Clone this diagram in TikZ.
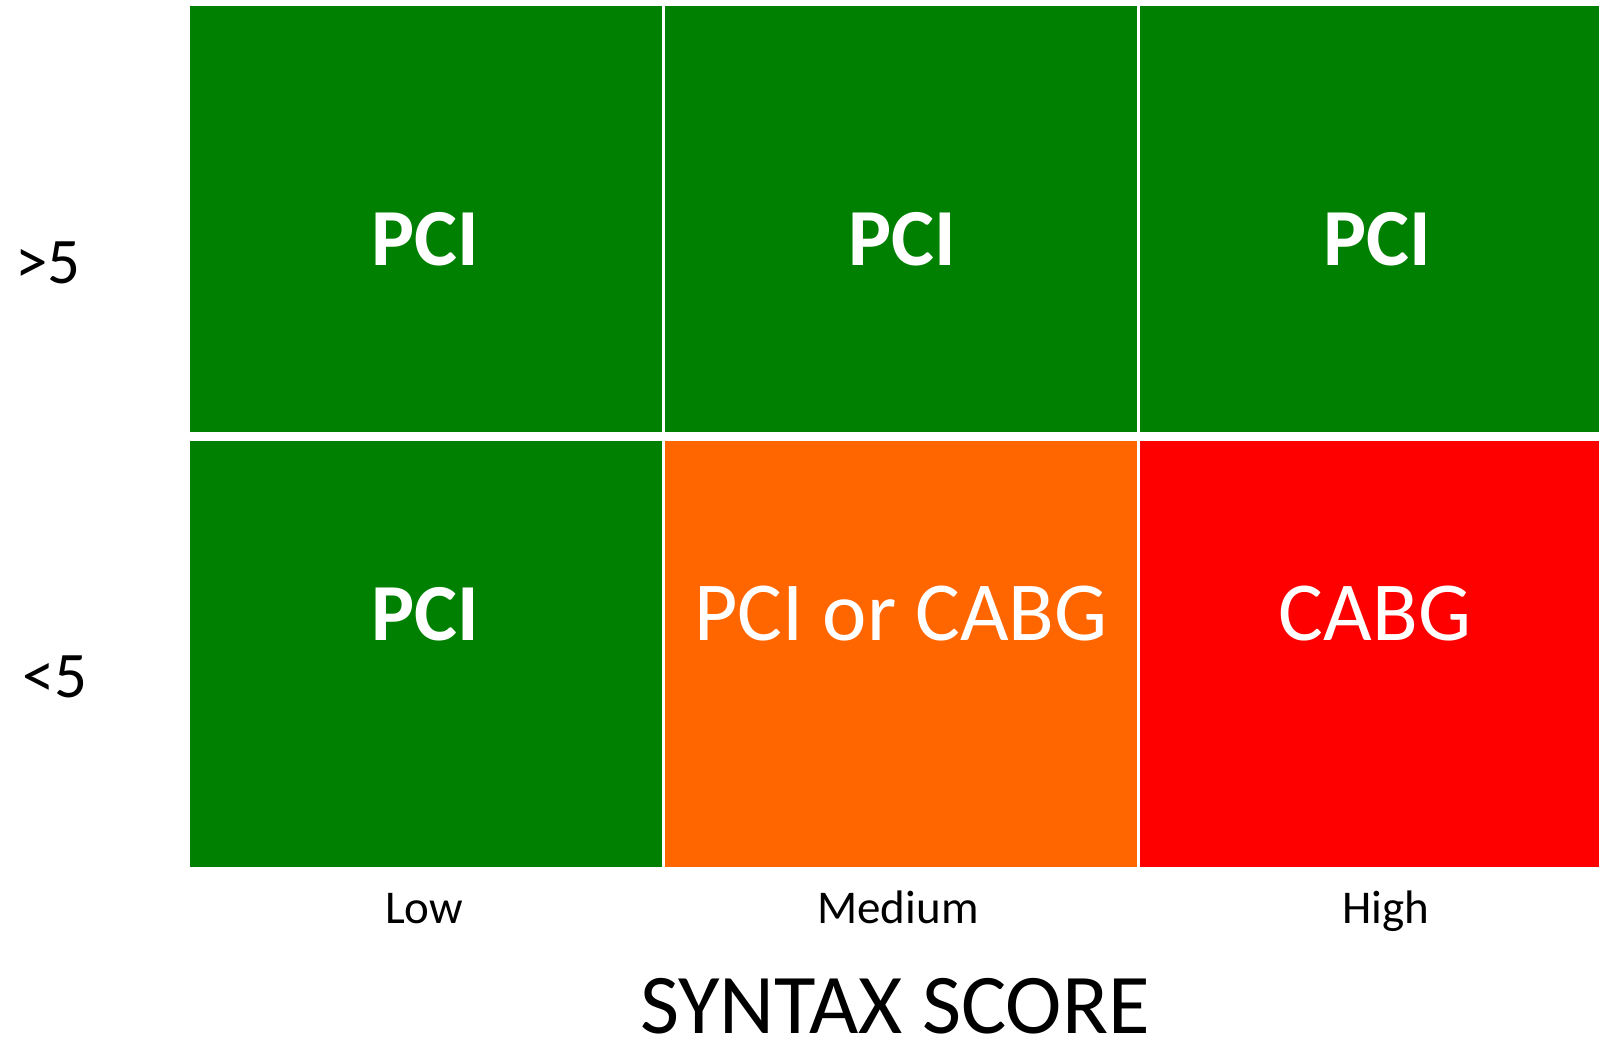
\documentclass[tikz,border=0pt]{standalone}
\usepackage{fontspec}
\setmainfont{Carlito}
\definecolor{cgreen}{HTML}{008000}
\definecolor{corange}{HTML}{FF6600}
\definecolor{cred}{HTML}{FF0000}
\begin{document}
\begin{tikzpicture}[x=1pt,y=-1pt,
  cell/.style={fill=#1},
  big/.style={inner sep=0pt,anchor=base,text=white,font=\fontsize{84}{90}\selectfont},
  bigb/.style={inner sep=0pt,anchor=base,text=white,font=\fontsize{81}{90}\selectfont\bfseries},
  axl/.style={inner sep=0pt,anchor=base,font=\fontsize{65}{70}\selectfont},
  tick/.style={inner sep=0pt,anchor=base,font=\fontsize{47}{52}\selectfont},
  title/.style={inner sep=0pt,anchor=base,font=\fontsize{85}{95}\selectfont}]
\useasboundingbox (0,0) rectangle (1599,1044);
% cells
\fill[cell=cgreen] (190,6) rectangle (662,432);
\fill[cell=cgreen] (665,6) rectangle (1137,432);
\fill[cell=cgreen] (1140,6) rectangle (1599,432);
\fill[cell=cgreen] (190,441) rectangle (662,867);
\fill[cell=corange] (665,441) rectangle (1137,867);
\fill[cell=cred] (1140,441) rectangle (1599,867);
% cell texts
\node[bigb] (a1) at (425,265) {PCI};
\node[bigb] (a2) at (902,265) {PCI};
\node[bigb] (a3) at (1377,265) {PCI};
\node[bigb] (b1) at (425,640) {PCI};
\node[big] (b2) at (901,640) {PCI or CABG};
\node[big] (b3) at (1375,640) {CABG};
% axis labels
\node[axl] (r1) at (48,283) {>5};
\node[axl] (r2) at (55,697) {<5};
\node[tick] (c1) at (424,923) {Low};
\node[tick] (c2) at (898,923) {Medium};
\node[tick] (c3) at (1386,923) {High};
\node[title] (t) at (895,1033) {SYNTAX SCORE};
\end{tikzpicture}
\end{document}
